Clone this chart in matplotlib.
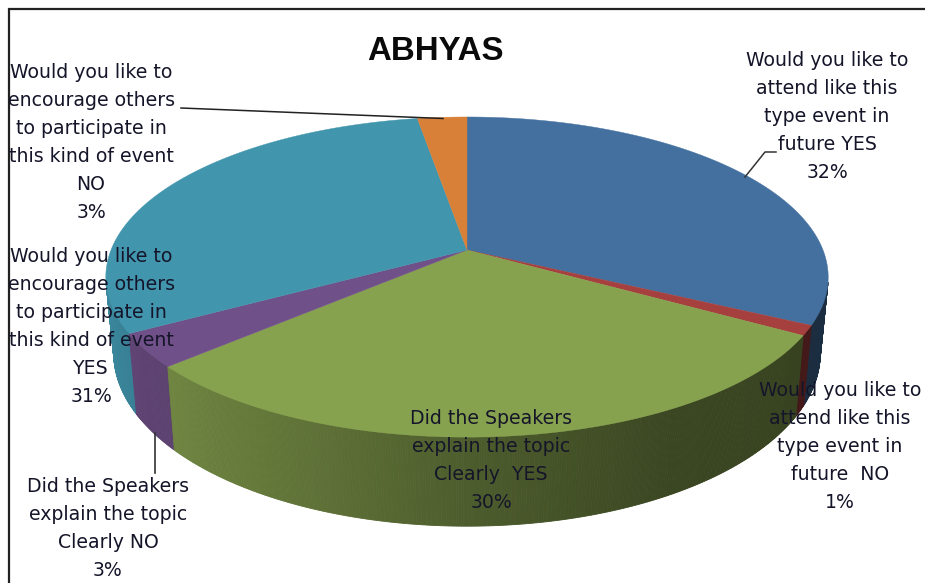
import numpy as np
import matplotlib
matplotlib.use("Agg")
import matplotlib.pyplot as plt
from matplotlib.patches import Polygon

title = "ABHYAS"
labels = [
    "Would you like to\nattend like this\ntype event in\nfuture YES\n32%",
    "Would you like to\nattend like this\ntype event in\nfuture  NO\n1%",
    "Did the Speakers\nexplain the topic\nClearly  YES\n30%",
    "Did the Speakers\nexplain the topic\nClearly NO\n3%",
    "Would you like to\nencourage others\nto participate in\nthis kind of event\nYES\n31%",
    "Would you like to\nencourage others\nto participate in\nthis kind of event\nNO\n3%",
]
values = [32.4, 1.0, 30.0, 3.4, 30.6, 2.6]
colors = ["#44709f", "#a5403e", "#87a24e", "#705088", "#4195ad", "#d98038"]
label_x = [827, 840, 491, 108, 91, 91]
label_y = [117, 447, 460, 528, 327, 142]

# projection of the tilted pie
X0, Y0, A, B, K = 467.0, 250.0, 356.0, 155.5, 0.169
H, SHRINK = 74.0, 0.978


def top(theta, r=1.0):
    u, v = r * np.sin(theta), r * np.cos(theta)
    w = 1 + K * v
    return X0 + A * u / w, Y0 - B * v / w


def bottom(theta):
    x, y = top(theta)
    w = 1 + K * np.cos(theta)
    return X0 + (x - X0) * SHRINK, y + H / w


def shade(theta):
    return np.interp(np.sin(theta), [-1, -0.85, -0.3, 0, 0.5, 1],
                     [0.92, 0.85, 0.68, 0.57, 0.43, 0.40])


fig = plt.figure(figsize=(9.25, 5.83), dpi=100, facecolor="white")
ax = fig.add_axes([0, 0, 1, 1])
ax.set_xlim(0, 925)
ax.set_ylim(583, 0)
ax.axis("off")

edges = np.r_[0, np.cumsum(values)] / sum(values) * 2 * np.pi
quads = []
for i, c in enumerate(colors):
    n = max(int((edges[i + 1] - edges[i]) / 0.006), 2)
    ts = np.linspace(edges[i], edges[i + 1], n + 1)
    base = np.array(matplotlib.colors.to_rgb(c))
    for a, b in zip(ts[:-1], ts[1:]):
        m = (a + b) / 2
        if np.cos(m) < -0.2:
            xa, ya = top(a)
            xb, yb = top(b)
            xc, yc = bottom(b)
            xd, yd = bottom(a)
            quads.append((-np.cos(m), [(xa, ya), (xb, yb), (xc, yc), (xd, yd)], base * shade(m)))
for _, pts, col in sorted(quads, key=lambda q: q[0]):
    ax.add_patch(Polygon(pts, closed=True, facecolor=col, edgecolor=col, linewidth=0.6, zorder=2))

for i, c in enumerate(colors):
    ts = np.linspace(edges[i], edges[i + 1], 200)
    xs, ys = top(ts)
    pts = np.column_stack([np.r_[X0, xs], np.r_[Y0, ys]])
    ax.add_patch(Polygon(pts, closed=True, facecolor=c, edgecolor=c, linewidth=0.3, zorder=3))

# frame
ax.plot([925, 8.5, 8.5], [8.5, 8.5, 583], color="#222222", lw=1.6, zorder=6, solid_joinstyle="miter")

# leader lines
lc = "#333333"
ax.plot([181, 443], [108, 118.5], color="#222222", lw=1.1, zorder=5)
ax.plot([745, 765, 776], [177, 152, 152], color=lc, lw=1.1, zorder=5)
ax.plot([154.5, 154.5], [433, 473], color=lc, lw=1.2, zorder=5)

for s, x, y in zip(labels, label_x, label_y):
    ax.text(x, y, s, ha="center", va="center", multialignment="center",
            fontsize=13.6, family="DejaVu Sans", color="#15152a", linespacing=1.6, zorder=7)
ax.text(435, 52, title, ha="center", va="center", fontsize=23.8, fontweight="bold",
        family="Liberation Sans", color="#0a0a0a", zorder=7)

fig.savefig("out.png", dpi=100, facecolor="white")
